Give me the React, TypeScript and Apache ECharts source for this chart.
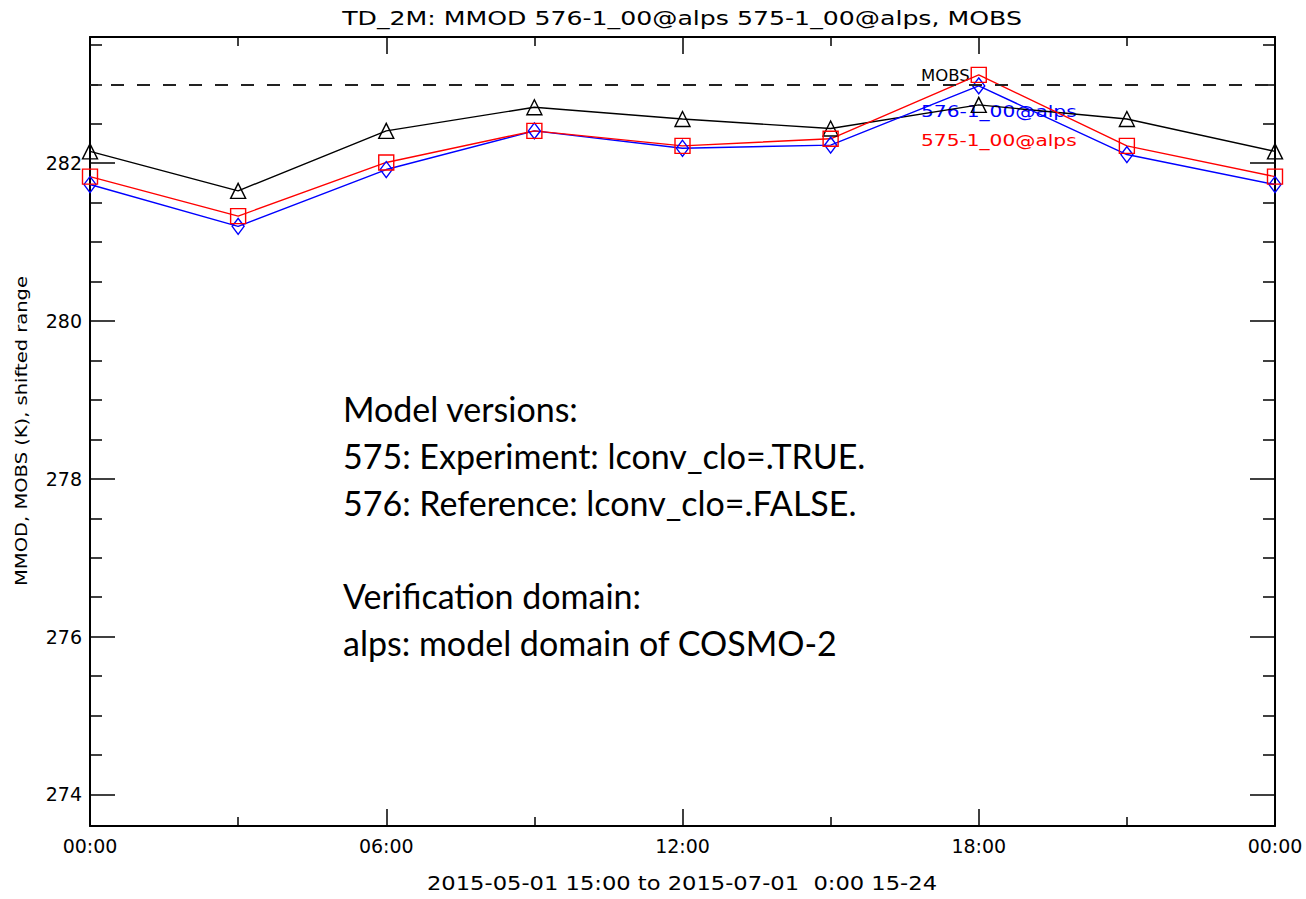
import React, { useEffect, useRef } from "react";
import * as echarts from "echarts";

const hours = [0, 3, 6, 9, 12, 15, 18, 21, 24];
const mobs = [282.15, 281.65, 282.41, 282.71, 282.56, 282.44, 282.74, 282.56, 282.15];
const ref576 = [281.73, 281.2, 281.92, 282.41, 282.19, 282.23, 282.98, 282.11, 281.73];
const exp575 = [281.83, 281.33, 282.01, 282.41, 282.22, 282.31, 283.12, 282.22, 281.83];
const xTickLabels = ["00:00", "06:00", "12:00", "18:00", "00:00"];
const obsLevel = 283;
const yMin = 273.6;
const yMax = 283.6;

const titleText = "TD_2M: MMOD 576-1_00@alps 575-1_00@alps, MOBS";
const xName = "2015-05-01 15:00 to 2015-07-01  0:00 15-24";
const yName = "MMOD, MOBS (K), shifted range";
const noteLines = [
  "Model versions:",
  "575: Experiment: lconv_clo=.TRUE.",
  "576: Reference: lconv_clo=.FALSE.",
  "Verification domain:",
  "alps: model domain of COSMO-2",
];

const pairs = (vals: number[]) => hours.map((h, i) => [h, vals[i]]);

const IDL = "DejaVu Sans";

export default function App() {
  const ref = useRef<HTMLDivElement>(null);
  useEffect(() => {
    if (!ref.current) return;
    const chart = echarts.init(ref.current, undefined, { renderer: "svg" });
    const axisLine = { show: true, onZero: false, lineStyle: { color: "#000", width: 2 } };
    const xAxisBase = {
      type: "value",
      min: 0,
      max: 24,
      interval: 6,
      axisLine,
      axisTick: { show: true, inside: true, length: 17, lineStyle: { color: "#000", width: 1.5 } },
      minorTick: { show: true, splitNumber: 2, length: 9, lineStyle: { color: "#000", width: 1.5 } },
      splitLine: { show: false },
    };
    const yAxisBase = {
      type: "value",
      min: yMin,
      max: yMax,
      splitNumber: 5,
      axisLine,
      axisTick: { show: true, inside: true, length: 25, lineStyle: { color: "#000", width: 1.5 } },
      minorTick: { show: true, splitNumber: 4, length: 12, lineStyle: { color: "#000", width: 1.5 } },
      splitLine: { show: false },
    };
    const seriesStyle = (color: string, symbol: string, size: number[]) => ({
      type: "line",
      symbol,
      symbolSize: size,
      lineStyle: { color, width: 1.4 },
      itemStyle: { color: "rgba(0,0,0,0)", borderColor: color, borderWidth: 1.4 },
      xAxisIndex: 0,
      yAxisIndex: 0,
    });
    const noteY = [408, 455, 502, 595, 642];
    const option = {
      animation: false,
      backgroundColor: "#fff",
      grid: { left: 90, right: 31, top: 37, bottom: 73, containLabel: false },
      xAxis: [
        {
          ...xAxisBase,
          position: "bottom",
          axisLabel: {
            show: true,
            margin: 10,
            fontSize: 19,
            fontFamily: IDL,
            color: "#000",
            formatter: (v: number) => xTickLabels[Math.round(v / 6)] ?? "",
          },
        },
        { ...xAxisBase, position: "top", axisLabel: { show: false } },
      ],
      yAxis: [
        {
          ...yAxisBase,
          position: "left",
          axisLabel: {
            show: true,
            margin: 8,
            fontSize: 19,
            fontFamily: IDL,
            color: "#000",
            showMinLabel: false,
            showMaxLabel: false,
            formatter: (v: number) => (Number.isInteger(v) ? String(v) : ""),
          },
        },
        { ...yAxisBase, position: "right", axisLabel: { show: false } },
      ],
      series: [
        {
          ...seriesStyle("#000000", "triangle", [15, 15]),
          name: "MOBS",
          data: pairs(mobs),
          markLine: {
            silent: true,
            symbol: ["none", "none"],
            label: { show: false },
            lineStyle: { color: "#222", width: 2, type: [13, 13], dashOffset: 5 },
            data: [{ yAxis: obsLevel }],
          },
        },
        { ...seriesStyle("#0000ff", "diamond", [12, 16]), name: "576-1_00@alps", data: pairs(ref576) },
        { ...seriesStyle("#ff0000", "rect", [15, 15]), name: "575-1_00@alps", data: pairs(exp575) },
      ],
      graphic: [
        {
          type: "text",
          x: 682,
          y: 18,
          scaleX: 1.26,
          style: { text: titleText, fontSize: 20, fontFamily: IDL, fill: "#000", align: "center", verticalAlign: "middle", textAlign: "center", textVerticalAlign: "middle" },
        },
        {
          type: "text",
          x: 682,
          y: 884,
          scaleX: 1.19,
          style: { text: xName, fontSize: 19, fontFamily: IDL, fill: "#000", align: "center", verticalAlign: "middle", textAlign: "center", textVerticalAlign: "middle" },
        },
        {
          type: "text",
          x: 21,
          y: 431,
          rotation: Math.PI / 2,
          scaleX: 1.22,
          style: { text: yName, fontSize: 16, fontFamily: IDL, fill: "#000", align: "center", verticalAlign: "middle", textAlign: "center", textVerticalAlign: "middle" },
        },
        {
          type: "text",
          x: 921,
          y: 76,
          scaleX: 1.03,
          style: { text: "MOBS", fontSize: 16, fontFamily: IDL, fill: "#000", align: "left", verticalAlign: "middle", textAlign: "left", textVerticalAlign: "middle" },
        },
        {
          type: "text",
          x: 921,
          y: 111,
          scaleX: 1.26,
          style: { text: "576-1_00@alps", fontSize: 16, fontFamily: IDL, fill: "#0000ff", align: "left", verticalAlign: "middle", textAlign: "left", textVerticalAlign: "middle" },
        },
        {
          type: "text",
          x: 921,
          y: 140,
          scaleX: 1.26,
          style: { text: "575-1_00@alps", fontSize: 16, fontFamily: IDL, fill: "#ff0000", align: "left", verticalAlign: "middle", textAlign: "left", textVerticalAlign: "middle" },
        },
        ...noteLines.map((t, i) => ({
          type: "text",
          x: 343,
          y: noteY[i],
          style: { text: t, fontSize: 34, fontFamily: "Lato", fill: "#000", align: "left", verticalAlign: "middle", textAlign: "left", textVerticalAlign: "middle" },
        })),
      ],
    };
    chart.setOption(option as any);
    return () => chart.dispose();
  }, []);
  return (
    <div
      ref={ref}
      style={{ position: "fixed", left: 0, top: 0, width: "1306px", height: "899px", background: "#fff" }}
    />
  );
}
